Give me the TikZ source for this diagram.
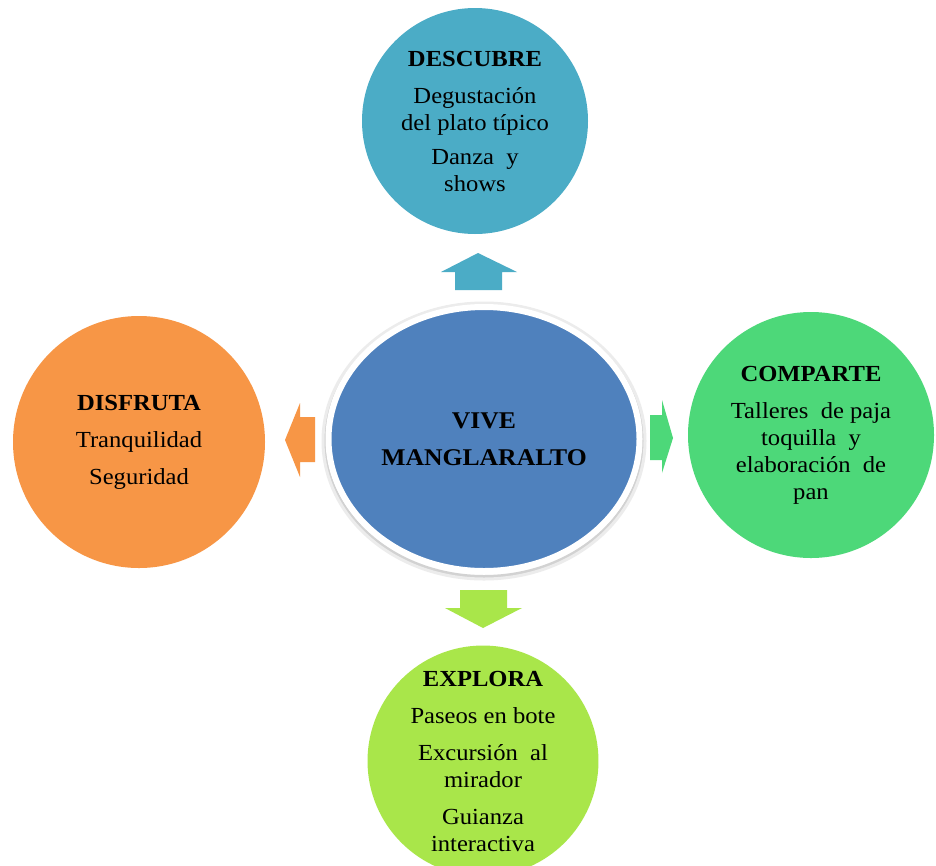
\documentclass[tikz,border=0pt]{standalone}
\usepackage{fontspec}
\setmainfont{Liberation Serif}[FakeStretch=1.07]
\usetikzlibrary{shapes.geometric}
\definecolor{cTeal}{HTML}{4BACC6}
\definecolor{cGreen}{HTML}{4DD879}
\definecolor{cOrange}{HTML}{F79646}
\definecolor{cLime}{HTML}{A9E64A}
\definecolor{cBlue}{HTML}{4F81BD}
\begin{document}
\begin{tikzpicture}[x=1pt,y=-1pt,
  bubble/.style={circle,inner sep=0pt,align=center,text=black,
    font=\fontsize{23}{27}\selectfont},
  hub/.style={ellipse,inner sep=0pt,align=center,text=black,fill=cBlue,
    draw=white,line width=6pt,minimum width=311pt,minimum height=264pt,
    font=\fontsize{24}{27}\selectfont\bfseries}]
\useasboundingbox (0,0) rectangle (936,865);
\clip (0,0) rectangle (936,865);
\fill[white] (0,0) rectangle (936,865);

% outer circles
\node[bubble,fill=cTeal,minimum size=226pt] (desc) at (475,121)
  {\textbf{DESCUBRE}\\[10pt]Degustación\\del plato típico\\[7pt]Danza\ \ y\\shows};
\node[bubble,fill=cGreen,minimum size=246pt] (comp) at (811,435)
  {\textbf{COMPARTE}\\[10pt]Talleres\ \ de paja\\toquilla\ \ y\\elaboración\ \ de\\pan};
\node[bubble,fill=cOrange,minimum size=252pt] (disf) at (139,442)
  {\textbf{DISFRUTA}\\[10pt]Tranquilidad\\[10pt]Seguridad};
\node[bubble,fill=cLime,minimum size=222pt] (expl) at (483,761)
  {\textbf{EXPLORA}\\[10pt]Paseos en bote\\[10pt]Excursión\ \ al\\mirador\\[10pt]Guianza\\interactiva};

% central ellipse with soft shadow
\draw[gray!35,line width=3pt] (484,440) ellipse (159.5pt and 136.5pt);
\draw[gray!15,line width=3pt] (484,441) ellipse (161pt and 138pt);
\node[hub] (vive) at (484,439) {VIVE\\[10pt]MANGLARALTO};

% block arrows
\fill[cTeal] (455,290) -- (455,272) -- (441,272) -- (478,253) -- (517,272)
  -- (502,272) -- (502,290) -- cycle;
\fill[cOrange] (315,417) -- (300,417) -- (300,403) -- (285,440) -- (300,477)
  -- (300,462) -- (315,462) -- cycle;
\fill[cGreen] (650,415) -- (662,415) -- (662,400) -- (673,438) -- (662,473)
  -- (662,460) -- (650,460) -- cycle;
\fill[cLime] (460,590) -- (507,590) -- (507,608) -- (522,608) -- (483,628)
  -- (445,608) -- (460,608) -- cycle;
\end{tikzpicture}
\end{document}
